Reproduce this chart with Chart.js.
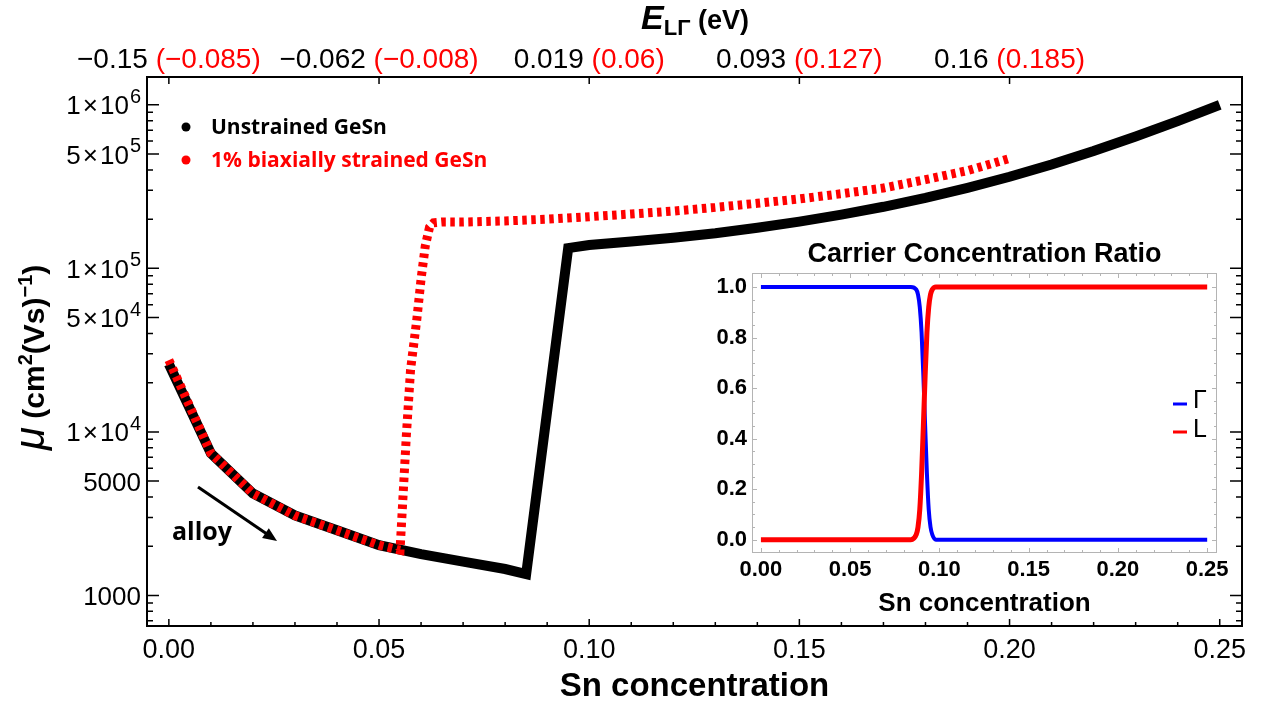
<!DOCTYPE html>
<html>
<head>
<meta charset="utf-8">
<script src="https://cdn.jsdelivr.net/npm/chart.js@4.4.0/dist/chart.umd.min.js"></script>
<style>
    body { margin: 0; background: #fff; }
    #wrap { position: relative; width: 1261px; height: 708px; background: #fff; }
    #mainChart { position: absolute; left: 0; top: 0; }
    #insetChart { position: absolute; left: 690px; top: 230px; }
</style>
</head>
<body>
<div id="wrap">
    <canvas id="mainChart" width="1261" height="708"></canvas>
    <canvas id="insetChart" width="545" height="395"></canvas>
</div>
<script>
const FONT = "'Liberation Sans', Arial, sans-serif";
const LEGEND_FONT = "'Open Sans', sans-serif";

// Main plot: mobility vs Sn concentration
const snUnstrained = [0, 0.01, 0.02, 0.03, 0.04, 0.05, 0.06, 0.07, 0.08, 0.085, 0.095, 0.10, 0.11, 0.12, 0.13, 0.14, 0.15, 0.16, 0.17, 0.18, 0.19, 0.20, 0.21, 0.22, 0.23, 0.24, 0.25];
const muUnstrained = [26000, 7400, 4200, 3080, 2500, 2030, 1790, 1610, 1450, 1350, 133000, 139000, 146000, 154000, 164000, 177000, 193000, 213000, 238000, 270000, 311000, 363000, 432000, 522000, 640000, 795000, 1000000];

const snStrained = [0, 0.01, 0.02, 0.03, 0.04, 0.05, 0.055, 0.0565, 0.0575, 0.059, 0.060, 0.061, 0.062, 0.063, 0.065, 0.07, 0.08, 0.09, 0.10, 0.11, 0.12, 0.13, 0.14, 0.15, 0.16, 0.17, 0.18, 0.19, 0.20];
const muStrained = [27500, 7400, 4200, 3080, 2500, 2030, 1890, 9500, 24000, 49000, 86000, 137000, 178000, 190000, 192000, 192000, 195000, 200000, 207000, 215000, 224000, 236000, 250000, 266000, 286000, 310000, 349000, 396000, 470000];

// Inset: carrier concentration ratio
const snRatio = [0, 0.084, 0.087, 0.088, 0.089, 0.090, 0.091, 0.092, 0.093, 0.094, 0.095, 0.096, 0.098, 0.25];
const ratioGamma = [1, 1, 0.99, 0.97, 0.92, 0.82, 0.65, 0.45, 0.26, 0.12, 0.05, 0.02, 0, 0];
const ratioL = [0, 0, 0.02, 0.05, 0.12, 0.26, 0.45, 0.65, 0.82, 0.92, 0.97, 0.99, 1, 1];

// Axis ticks and labels
const xMajor = [0, 0.05, 0.10, 0.15, 0.20, 0.25];
const topTicks = [0, 0.05, 0.10, 0.15, 0.20];
const topBlack = ["\u22120.15", "\u22120.062", "0.019", "0.093", "0.16"];
const topRed = ["(\u22120.085)", "(\u22120.008)", "(0.06)", "(0.127)", "(0.185)"];
const yLabelVals = [1e6, 5e5, 1e5, 5e4, 1e4, 5000, 1000];
const yLabelMant = ["1", "5", "1", "5", "1", "5000", "1000"];
const yLabelExp = ["6", "5", "5", "4", "4", "", ""];
const insetXTicks = [0, 0.05, 0.10, 0.15, 0.20, 0.25];
const insetYTicks = [0, 0.2, 0.4, 0.6, 0.8, 1.0];

const yMin = 650, yMax = 1.48e6;

// all minor tick positions for the log axis
const yTickVals = [];
for (let e = 2; e <= 6; e++) {
    for (let m = 1; m <= 9; m++) {
        const v = m * Math.pow(10, e);
        if (v >= yMin && v <= yMax) yTickVals.push(v);
    }
}

function toPoints(xs, ys) {
    return xs.map((x, i) => ({ x: x, y: ys[i] }));
}

// Draws ticks, labels, legend and annotations of the main plot
const mainDecor = {
    id: "mainDecor",
    afterDraw(chart) {
        const ctx = chart.ctx;
        const a = chart.chartArea;
        const xs = chart.scales.x;
        const ys = chart.scales.y;
        ctx.save();

        // inward ticks
        ctx.strokeStyle = "#000";
        ctx.lineWidth = 1.5;
        ctx.beginPath();
        yTickVals.forEach((v) => {
            const py = ys.getPixelForValue(v);
            const len = yLabelVals.includes(v) ? 12 : 6;
            ctx.moveTo(a.left, py); ctx.lineTo(a.left + len, py);
            ctx.moveTo(a.right, py); ctx.lineTo(a.right - len, py);
        });
        for (let i = 0; i <= 25; i++) {
            const px = xs.getPixelForValue(i / 100);
            const len = i % 5 === 0 ? 7 : 4;
            ctx.moveTo(px, a.bottom); ctx.lineTo(px, a.bottom - len);
        }
        topTicks.forEach((v) => {
            const px = xs.getPixelForValue(v);
            ctx.moveTo(px, a.top); ctx.lineTo(px, a.top + 7);
        });
        ctx.stroke();

        // y tick labels with powers of ten
        ctx.textBaseline = "alphabetic";
        ctx.fillStyle = "#000";
        ctx.textAlign = "right";
        yLabelVals.forEach((v, i) => {
            const py = ys.getPixelForValue(v);
            let right = a.left - 6;
            if (yLabelExp[i]) {
                ctx.font = "20px " + FONT;
                ctx.fillText(yLabelExp[i], right, py - 2);
                right -= ctx.measureText(yLabelExp[i]).width + 1;
                ctx.font = "26px " + FONT;
                ctx.fillText("10", right, py + 9.5);
                right -= ctx.measureText("10").width + 2;
                ctx.fillText("\u00d7", right, py + 9.5);
                right -= ctx.measureText("\u00d7").width + 2;
                ctx.fillText(yLabelMant[i], right, py + 9.5);
            } else {
                ctx.font = "26px " + FONT;
                ctx.fillText(yLabelMant[i], right, py + 9.5);
            }
        });

        // top axis labels (black unstrained, red strained)
        ctx.font = "28px " + FONT;
        ctx.textAlign = "left";
        topTicks.forEach((v, i) => {
            const px = xs.getPixelForValue(v);
            const wb = ctx.measureText(topBlack[i]).width;
            const wsp = ctx.measureText(" ").width;
            const wr = ctx.measureText(topRed[i]).width;
            const x0 = px - (wb + wsp + wr) / 2;
            ctx.fillStyle = "#000";
            ctx.fillText(topBlack[i], x0, 68);
            ctx.fillStyle = "#ff0000";
            ctx.fillText(topRed[i], x0 + wb + wsp, 68);
        });

        // top axis title E_LΓ (eV)
        ctx.fillStyle = "#000";
        const parts = [
            { t: "E", f: "italic bold 34px " + FONT, dy: 0 },
            { t: "L\u0393", f: "bold 22px " + FONT, dy: 6 },
            { t: " (eV)", f: "bold 27px " + FONT, dy: 0 }
        ];
        let total = 0;
        parts.forEach((p) => { ctx.font = p.f; p.w = ctx.measureText(p.t).width; total += p.w; });
        let tx = 695 - total / 2;
        parts.forEach((p) => { ctx.font = p.f; ctx.fillText(p.t, tx, 29 + p.dy); tx += p.w; });

        // y axis title, rotated
        ctx.translate(44, 450);
        ctx.rotate(-Math.PI / 2);
        const yParts = [
            { t: "\u03bc", f: "italic 42px " + FONT, dy: 0 },
            { t: " (cm", f: "bold 30px " + FONT, dy: 0 },
            { t: "2", f: "bold 20px " + FONT, dy: -12 },
            { t: "(Vs)", f: "bold 30px " + FONT, dy: 0 },
            { t: "\u22121", f: "bold 20px " + FONT, dy: -12 },
            { t: ")", f: "bold 30px " + FONT, dy: 0 }
        ];
        let ty = 0;
        yParts.forEach((p) => { ctx.font = p.f; ctx.fillText(p.t, ty, p.dy); ty += ctx.measureText(p.t).width; });
        ctx.setTransform(1, 0, 0, 1, 0, 0);

        // legend
        ctx.font = "bold 21px " + LEGEND_FONT;
        ctx.textBaseline = "middle";
        ctx.fillStyle = "#000";
        ctx.beginPath(); ctx.arc(186, 127, 4.5, 0, Math.PI * 2); ctx.fill();
        ctx.fillText("Unstrained GeSn", 211, 128);
        ctx.fillStyle = "#ff0000";
        ctx.beginPath(); ctx.arc(186, 160, 4.5, 0, Math.PI * 2); ctx.fill();
        ctx.fillText("1% biaxially strained GeSn", 211, 161);

        // alloy arrow
        ctx.fillStyle = "#000";
        ctx.strokeStyle = "#000";
        ctx.lineWidth = 3;
        const x1 = 198, y1 = 487, x2 = 277, y2 = 541;
        const ang = Math.atan2(y2 - y1, x2 - x1);
        ctx.beginPath();
        ctx.moveTo(x1, y1);
        ctx.lineTo(x2 - 10 * Math.cos(ang), y2 - 10 * Math.sin(ang));
        ctx.stroke();
        ctx.beginPath();
        ctx.moveTo(x2, y2);
        ctx.lineTo(x2 - 14 * Math.cos(ang) + 6 * Math.sin(ang), y2 - 14 * Math.sin(ang) - 6 * Math.cos(ang));
        ctx.lineTo(x2 - 14 * Math.cos(ang) - 6 * Math.sin(ang), y2 - 14 * Math.sin(ang) + 6 * Math.cos(ang));
        ctx.closePath();
        ctx.fill();
        ctx.font = "bold 25px " + LEGEND_FONT;
        ctx.textBaseline = "alphabetic";
        ctx.textAlign = "left";
        ctx.fillText("alloy", 172, 540);

        ctx.restore();
    }
};

new Chart(document.getElementById("mainChart"), {
    type: "line",
    data: {
        datasets: [
            {
                label: "1% biaxially strained GeSn",
                data: toPoints(snStrained, muStrained),
                borderColor: "#ff0000",
                borderWidth: 9,
                borderDash: [4.5, 4.5],
                pointRadius: 0,
                tension: 0,
                order: 0
            },
            {
                label: "Unstrained GeSn",
                data: toPoints(snUnstrained, muUnstrained),
                borderColor: "#000000",
                borderWidth: 10,
                borderJoinStyle: "miter",
                pointRadius: 0,
                tension: 0,
                order: 1
            }
        ]
    },
    options: {
        responsive: false,
        animation: false,
        devicePixelRatio: 1,
        layout: { padding: 0 },
        plugins: { legend: { display: false }, tooltip: { enabled: false } },
        scales: {
            x: {
                type: "linear",
                position: "bottom",
                min: -0.0052,
                max: 0.2553,
                grid: { display: false, drawTicks: false },
                border: { display: true, color: "#000", width: 2 },
                ticks: {
                    color: "#000",
                    font: { family: FONT, size: 27 },
                    padding: 8,
                    maxRotation: 0,
                    autoSkip: false,
                    callback: (v) => v.toFixed(2)
                },
                afterBuildTicks: (s) => { s.ticks = xMajor.map((v) => ({ value: v })); },
                title: {
                    display: true,
                    text: "Sn concentration",
                    color: "#000",
                    font: { family: FONT, size: 33, weight: "bold" },
                    padding: { top: 0, bottom: 1 }
                },
                afterFit: (s) => { s.height = 82; }
            },
            xTop: {
                type: "linear",
                position: "top",
                min: -0.0052,
                max: 0.2553,
                grid: { display: false, drawTicks: false },
                border: { display: true, color: "#000", width: 2 },
                ticks: { display: false },
                afterFit: (s) => { s.height = 77; }
            },
            y: {
                type: "logarithmic",
                position: "left",
                min: yMin,
                max: yMax,
                grid: { display: false, drawTicks: false },
                border: { display: true, color: "#000", width: 2 },
                ticks: { display: false },
                afterFit: (s) => { s.width = 147; }
            },
            yRight: {
                type: "logarithmic",
                position: "right",
                min: yMin,
                max: yMax,
                grid: { display: false, drawTicks: false },
                border: { display: true, color: "#000", width: 2 },
                ticks: { display: false },
                afterFit: (s) => { s.width = 19; }
            }
        }
    },
    plugins: [mainDecor]
});

// Frame, ticks, title and legend of the inset
const insetDecor = {
    id: "insetDecor",
    afterDraw(chart) {
        const ctx = chart.ctx;
        const a = chart.chartArea;
        const xs = chart.scales.x;
        const ys = chart.scales.y;
        ctx.save();
        ctx.strokeStyle = "#b4b4b4";
        ctx.lineWidth = 1;
        ctx.strokeRect(a.left + 0.5, a.top + 0.5, a.right - a.left - 1, a.bottom - a.top - 1);
        ctx.beginPath();
        for (let i = 0; i <= 25; i++) {
            const px = Math.round(xs.getPixelForValue(i / 100)) + 0.5;
            const len = i % 5 === 0 ? 5 : 3;
            ctx.moveTo(px, a.bottom); ctx.lineTo(px, a.bottom - len);
            ctx.moveTo(px, a.top); ctx.lineTo(px, a.top + len);
        }
        for (let i = 0; i <= 20; i++) {
            const py = Math.round(ys.getPixelForValue(i / 20)) + 0.5;
            const len = i % 4 === 0 ? 5 : 3;
            ctx.moveTo(a.left, py); ctx.lineTo(a.left + len, py);
            ctx.moveTo(a.right, py); ctx.lineTo(a.right - len, py);
        }
        ctx.stroke();

        ctx.fillStyle = "#000";
        ctx.font = "bold 27px " + FONT;
        ctx.textAlign = "center";
        ctx.textBaseline = "middle";
        ctx.fillText("Carrier Concentration Ratio", (a.left + a.right) / 2, 25);

        // legend
        ctx.lineWidth = 3;
        ctx.strokeStyle = "#0000ff";
        ctx.beginPath(); ctx.moveTo(483, 174); ctx.lineTo(497, 174); ctx.stroke();
        ctx.strokeStyle = "#ff0000";
        ctx.beginPath(); ctx.moveTo(483, 202); ctx.lineTo(497, 202); ctx.stroke();
        ctx.font = "25px " + FONT;
        ctx.textAlign = "left";
        ctx.textBaseline = "alphabetic";
        ctx.fillText("\u0393", 503, 178);
        ctx.fillText("L", 503, 207);
        ctx.restore();
    }
};

new Chart(document.getElementById("insetChart"), {
    type: "line",
    data: {
        datasets: [
            {
                label: "L",
                data: toPoints(snRatio, ratioL),
                borderColor: "#ff0000",
                borderWidth: 5,
                pointRadius: 0,
                cubicInterpolationMode: "monotone",
                order: 0
            },
            {
                label: "\u0393",
                data: toPoints(snRatio, ratioGamma),
                borderColor: "#0000ff",
                borderWidth: 4,
                pointRadius: 0,
                cubicInterpolationMode: "monotone",
                order: 1
            }
        ]
    },
    options: {
        responsive: false,
        animation: false,
        devicePixelRatio: 1,
        layout: { padding: { top: 43, right: 18, left: 0, bottom: 0 } },
        plugins: { legend: { display: false }, tooltip: { enabled: false } },
        scales: {
            x: {
                type: "linear",
                min: -0.005,
                max: 0.2555,
                grid: { display: false, drawTicks: false },
                border: { display: false },
                ticks: {
                    color: "#000",
                    font: { family: FONT, size: 22, weight: "bold" },
                    padding: 4,
                    maxRotation: 0,
                    autoSkip: false,
                    callback: (v) => v.toFixed(2)
                },
                afterBuildTicks: (s) => { s.ticks = insetXTicks.map((v) => ({ value: v })); },
                title: {
                    display: true,
                    text: "Sn concentration",
                    color: "#000",
                    font: { family: FONT, size: 26, weight: "bold" },
                    padding: { top: 0, bottom: 6 }
                },
                afterFit: (s) => { s.height = 72; }
            },
            y: {
                type: "linear",
                min: -0.0526,
                max: 1.0554,
                grid: { display: false, drawTicks: false },
                border: { display: false },
                ticks: {
                    color: "#000",
                    font: { family: FONT, size: 22, weight: "bold" },
                    padding: 5,
                    callback: (v) => v.toFixed(1)
                },
                afterBuildTicks: (s) => { s.ticks = insetYTicks.map((v) => ({ value: v })); },
                afterFit: (s) => { s.width = 62; }
            }
        }
    },
    plugins: [insetDecor]
});
</script>
</body>
</html>
